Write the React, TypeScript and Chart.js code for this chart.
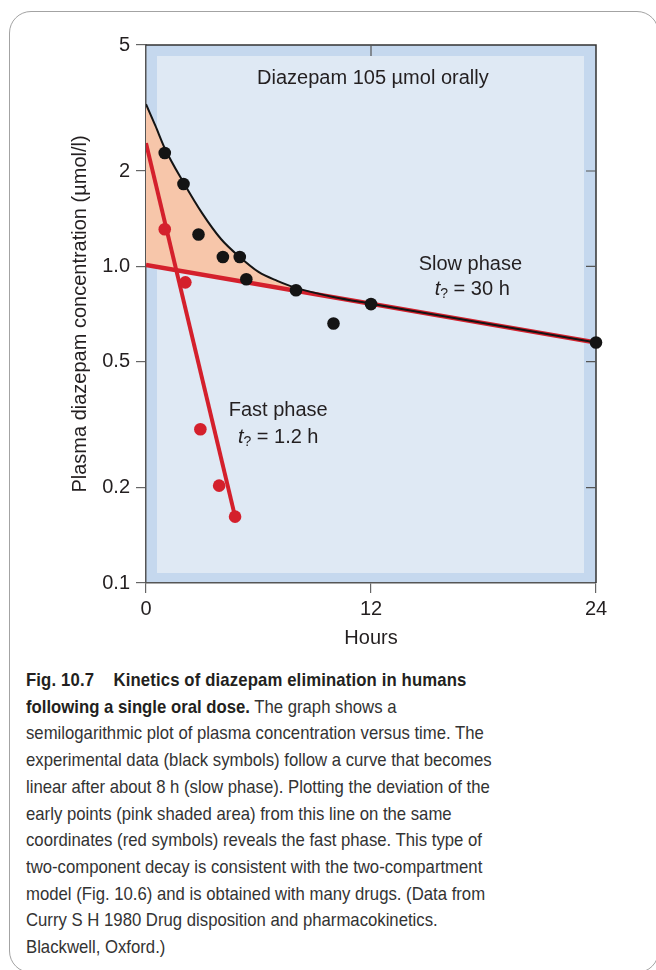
import React, { useEffect, useRef } from "react";
import { Chart, registerables } from "chart.js";
Chart.register(...registerables);

// ---- data ----
const blackHours = [1, 2, 2.8, 4.1, 5, 5.35, 8, 10, 12, 24];
const blackConc = [2.28, 1.82, 1.26, 1.07, 1.07, 0.91, 0.84, 0.66, 0.76, 0.575];
const redHours = [1, 2.1, 2.9, 3.9, 4.75];
const redConc = [1.31, 0.89, 0.306, 0.203, 0.162];
const curveHours = [0, 0.5, 1, 2, 3, 4, 5, 6, 7, 8, 10, 12, 24];
const curveConc = [3.25, 2.78, 2.36, 1.84, 1.47, 1.22, 1.07, 0.96, 0.9, 0.855, 0.8, 0.762, 0.575];
const slowHours = [0, 24];
const slowConc = [1.01, 0.575];
const fastHours = [0, 4.75];
const fastConc = [2.45, 0.162];
const xTicks = [0, 12, 24];
const yTicks = [0.1, 0.2, 0.5, 1, 2, 5];
const yTickLabels = ["0.1", "0.2", "0.5", "1.0", "2", "5"];
const innerRightTicks = [0.2, 0.5, 1, 2];
const innerTopTicks = [12];

const chartTitle = "Diazepam 105 \u00b5mol orally";
const yTitle = "Plasma diazepam concentration (\u00b5mol/l)";
const xTitle = "Hours";
const slowLabel = ["Slow phase", " = 30 h"];
const fastLabel = ["Fast phase", " = 1.2 h"];

const captionBold = ["Fig. 10.7", "Kinetics of diazepam elimination in humans", "following a single oral dose."];
const captionLines = [
  " The graph shows a",
  "semilogarithmic plot of plasma concentration versus time. The",
  "experimental data (black symbols) follow a curve that becomes",
  "linear after about 8 h (slow phase). Plotting the deviation of the",
  "early points (pink shaded area) from this line on the same",
  "coordinates (red symbols) reveals the fast phase. This type of",
  "two-component decay is consistent with the two-compartment",
  "model (Fig. 10.6) and is obtained with many drugs. (Data from",
  "Curry S H 1980 Drug disposition and pharmacokinetics.",
  "Blackwell, Oxford.)",
];

const FONT = '"Liberation Sans", Arial, Helvetica, sans-serif';
const RED = "#d4202c";
const INK = "#231f20";

const pts = (xs: number[], ys: number[]) => xs.map((x, i) => ({ x, y: ys[i] }));

function drawHalfLife(ctx: CanvasRenderingContext2D, cx: number, cy: number, rest: string) {
  ctx.save();
  ctx.textBaseline = "middle";
  ctx.fillStyle = INK;
  const fT = `italic 20px ${FONT}`;
  const fS = `14px ${FONT}`;
  const fR = `20px ${FONT}`;
  ctx.font = fT;
  const wT = ctx.measureText("t").width;
  ctx.font = fS;
  const wS = ctx.measureText("?").width;
  ctx.font = fR;
  const wR = ctx.measureText(rest).width;
  let x = cx - (wT + wS + wR) / 2;
  ctx.textAlign = "left";
  ctx.font = fT;
  ctx.fillText("t", x, cy);
  x += wT;
  ctx.font = fS;
  ctx.fillText("?", x, cy + 5);
  x += wS;
  ctx.font = fR;
  ctx.fillText(rest, x, cy);
  ctx.restore();
}

const decorPlugin = {
  id: "decor",
  beforeDraw(chart: any) {
    const { ctx, chartArea: a } = chart;
    ctx.save();
    ctx.fillStyle = "#c5d8ee";
    ctx.fillRect(a.left, a.top, a.right - a.left, a.bottom - a.top);
    ctx.fillStyle = "#dfe9f4";
    ctx.fillRect(a.left + 11, a.top + 11, a.right - a.left - 23, a.bottom - a.top - 21);
    ctx.restore();
  },
  beforeDatasetsDraw(chart: any) {
    const { ctx, chartArea: a, scales } = chart;
    ctx.save();
    ctx.strokeStyle = "#333333";
    ctx.lineWidth = 1.5;
    ctx.beginPath();
    ctx.moveTo(a.left, a.top);
    ctx.lineTo(a.right, a.top);
    ctx.lineTo(a.right, a.bottom);
    ctx.stroke();
    ctx.lineWidth = 1.2;
    ctx.strokeStyle = "#555555";
    ctx.beginPath();
    innerRightTicks.forEach((v) => {
      const y = scales.y.getPixelForValue(v);
      ctx.moveTo(a.right - 10, y);
      ctx.lineTo(a.right, y);
    });
    innerTopTicks.forEach((v) => {
      const x = scales.x.getPixelForValue(v);
      ctx.moveTo(x, a.top);
      ctx.lineTo(x, a.top + 11);
    });
    ctx.stroke();
    ctx.restore();
  },
  afterDatasetsDraw(chart: any) {
    const { ctx, scales } = chart;
    ctx.save();
    ctx.fillStyle = INK;
    ctx.font = `20px ${FONT}`;
    ctx.textAlign = "center";
    ctx.textBaseline = "middle";
    ctx.fillText(chartTitle, scales.x.getPixelForValue(12.1), 78);
    ctx.fillText(slowLabel[0], scales.x.getPixelForValue(17.3), 264);
    ctx.fillText(fastLabel[0], scales.x.getPixelForValue(7.05), 410);
    ctx.restore();
    drawHalfLife(ctx, scales.x.getPixelForValue(17.4), 289, slowLabel[1]);
    drawHalfLife(ctx, scales.x.getPixelForValue(7.05), 437, fastLabel[1]);
  },
};

function ChartView() {
  const ref = useRef<HTMLCanvasElement | null>(null);
  useEffect(() => {
    if (!ref.current) return;
    const chart = new Chart(ref.current, {
      type: "line",
      data: {
        datasets: [
          {
            label: "black",
            data: pts(blackHours, blackConc),
            showLine: false,
            pointRadius: 6.3,
            pointBackgroundColor: "#141414",
            pointBorderWidth: 0,
            clip: false,
          } as any,
          {
            label: "red",
            data: pts(redHours, redConc),
            showLine: false,
            pointRadius: 6.3,
            pointBackgroundColor: RED,
            pointBorderWidth: 0,
            clip: false,
          },
          {
            label: "fast",
            data: pts(fastHours, fastConc),
            borderColor: RED,
            borderWidth: 4,
            pointRadius: 0,
            fill: false,
          },
          {
            label: "curve",
            data: pts(curveHours, curveConc),
            borderColor: "#141414",
            borderWidth: 2,
            pointRadius: 0,
            cubicInterpolationMode: "monotone",
            fill: { target: 4 },
            backgroundColor: "#f7c6aa",
          },
          {
            label: "slow",
            data: pts(slowHours, slowConc),
            borderColor: RED,
            borderWidth: 4.5,
            pointRadius: 0,
            fill: false,
          },
        ],
      },
      options: {
        animation: false,
        responsive: false,
        maintainAspectRatio: false,
        layout: { padding: { left: 0, right: 60, top: 45, bottom: 0 } },
        plugins: {
          legend: { display: false },
          tooltip: { enabled: false },
          filler: { drawTime: "beforeDatasetsDraw" },
        } as any,
        scales: {
          x: {
            type: "linear",
            min: 0,
            max: 24,
            afterBuildTicks: (s: any) => {
              s.ticks = xTicks.map((v) => ({ value: v }));
            },
            afterFit: (s: any) => {
              s.height = 67;
            },
            ticks: { color: INK, font: { family: FONT, size: 20 }, padding: 4, maxRotation: 0 },
            grid: { drawOnChartArea: false, drawTicks: true, tickLength: 10, color: "#666666", lineWidth: 1.2 },
            border: { color: "#555555", width: 1.5 },
            title: { display: true, text: xTitle, color: INK, font: { family: FONT, size: 20 }, padding: { top: 6, bottom: 0 } },
          },
          y: {
            type: "logarithmic",
            min: 0.1,
            max: 5,
            afterBuildTicks: (s: any) => {
              s.ticks = yTicks.map((v) => ({ value: v }));
            },
            afterFit: (s: any) => {
              s.width = 146;
            },
            ticks: {
              color: INK,
              font: { family: FONT, size: 20 },
              padding: 6,
              callback: (v: any) => {
                const i = yTicks.indexOf(Number(v));
                return i >= 0 ? yTickLabels[i] : "";
              },
            },
            grid: { drawOnChartArea: false, drawTicks: true, tickLength: 10, color: "#666666", lineWidth: 1.2 },
            border: { color: "#555555", width: 1.5 },
            title: { display: true, text: yTitle, color: INK, font: { family: FONT, size: 20 }, padding: { top: 68, bottom: 0 } },
          },
        },
      },
      plugins: [decorPlugin],
    });
    return () => chart.destroy();
  }, []);
  return <canvas ref={ref} width={656} height={650} style={{ position: "absolute", left: 0, top: 0, width: 656, height: 650 }} />;
}

export default function App() {
  return (
    <div style={{ position: "absolute", left: 0, top: 0, width: 656, height: 970, overflow: "hidden", background: "#ffffff" }}>
      <div
        style={{
          position: "absolute",
          left: 9,
          top: 11,
          width: 650,
          height: 962,
          border: "1.5px solid #a3a3a3",
          borderRadius: 22,
          boxSizing: "border-box",
        }}
      />
      <ChartView />
      <div
        style={{
          position: "absolute",
          left: 26,
          top: 667,
          fontFamily: FONT,
          fontSize: 19,
          lineHeight: "26.7px",
          color: "#333333",
          whiteSpace: "pre",
          transform: "scaleX(0.88)",
          transformOrigin: "left top",
        }}
      >
        <div style={{ fontWeight: "bold", color: INK, letterSpacing: "0.15px" }}>
          {captionBold[0]}
          <span style={{ display: "inline-block", width: 22 }} />
          {captionBold[1]}
        </div>
        <div>
          <span style={{ fontWeight: "bold", color: INK }}>{captionBold[2]}</span>
          {captionLines[0]}
        </div>
        {captionLines.slice(1).map((l, i) => (
          <div key={i}>{l}</div>
        ))}
      </div>
    </div>
  );
}
